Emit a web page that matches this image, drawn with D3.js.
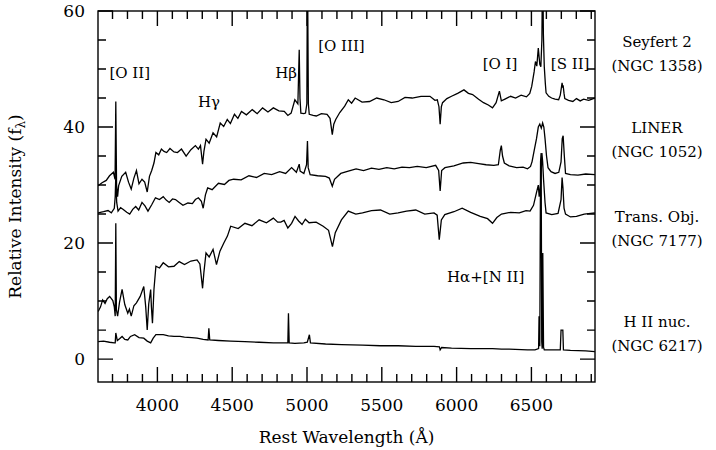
<!DOCTYPE html>
<html>
<head>
<meta charset="utf-8">
<script src="https://cdn.jsdelivr.net/npm/d3@7"></script>
<style>
  body { margin: 0; background: #fff; }
  text { font-family: "DejaVu Serif", "Liberation Serif", serif; fill: #000; }
</style>
</head>
<body>
<script>
// spectra: [rest wavelength, relative intensity]
var seyfert = [[3604,29.9],[3630,30.4],[3658,30.8],[3680,31.6],[3706,32.2],[3717,31],[3722,44.4],[3727,30],[3734,28],[3741,29.9],[3762,31.5],[3788,32.2],[3807,30.5],[3825,29.3],[3843,31.2],[3860,32.5],[3877,30.2],[3897,31],[3915,30.5],[3932,28.8],[3947,31.5],[3962,32.5],[3977,33.8],[3990,35.6],[4009,35.2],[4027,36.2],[4044,35.8],[4062,35.6],[4084,36.3],[4111,35.7],[4134,35.6],[4161,36.2],[4192,35.0],[4224,36.1],[4254,36.8],[4274,36.2],[4288,36.8],[4302,33.6],[4311,35.8],[4325,37.9],[4346,37.2],[4372,39.0],[4396,38.3],[4420,40.7],[4443,40.1],[4467,41.3],[4488,40.6],[4515,42.2],[4538,41.5],[4562,42.7],[4595,42.1],[4634,43.0],[4667,42.3],[4703,43.3],[4739,42.6],[4775,43.3],[4812,42.8],[4848,42.7],[4872,42.0],[4894,42.4],[4919,44.7],[4939,44],[4948,53.3],[4953,45],[4959,42.4],[4979,42.3],[4990,42.4],[4999,44],[5003,70],[5009,44],[5015,42.2],[5041,42.0],[5062,41.9],[5096,42.3],[5134,42.2],[5154,41.5],[5169,38.7],[5179,40.5],[5192,41.3],[5219,42.5],[5252,43.6],[5276,44.7],[5298,44.1],[5322,45.0],[5368,44.3],[5418,44.4],[5466,45.0],[5514,44.7],[5563,44.2],[5609,44.4],[5655,45.1],[5703,45.0],[5762,45.3],[5822,45.3],[5855,44.6],[5871,44.7],[5882,43.5],[5890,40.5],[5898,43.5],[5906,44.2],[5935,44.9],[5966,45.3],[6007,45.8],[6049,46.4],[6079,45.8],[6107,45.6],[6147,44.8],[6180,44.2],[6212,43.8],[6240,43.3],[6264,44.2],[6286,46.2],[6299,44.5],[6323,44.8],[6361,45.3],[6394,45.0],[6431,45.5],[6467,45.2],[6489,45.8],[6502,47.0],[6518,49.5],[6527,51.3],[6536,50.5],[6546,53.6],[6556,50.8],[6563,50.4],[6570,55],[6575,70],[6580,56],[6586,50.4],[6593,47.5],[6598,45.9],[6616,45.3],[6635,45.0],[6658,44.8],[6682,44.7],[6693,45.5],[6705,47.6],[6709,46.8],[6712,47.2],[6718,45.8],[6723,44.9],[6748,44.6],[6777,44.4],[6801,44.9],[6826,44.5],[6849,44.8],[6883,44.6],[6924,45.0]];

var liner = [[3604,25.2],[3640,25.4],[3670,25.6],[3692,25.2],[3712,26.0],[3718,28],[3722,31.5],[3728,27],[3737,25.5],[3754,26.1],[3772,25.8],[3795,25.3],[3815,25.0],[3835,25.8],[3855,26.3],[3875,25.7],[3897,27.0],[3917,26.4],[3937,25.5],[3962,26.6],[3987,27.8],[4014,27.5],[4039,28.0],[4059,27.4],[4079,27.0],[4101,27.6],[4121,27.5],[4146,27.0],[4171,26.5],[4204,26.9],[4234,26.8],[4254,27.5],[4274,27.8],[4294,27.2],[4306,26.0],[4321,28.3],[4336,29.5],[4366,29.2],[4408,30.3],[4448,30.1],[4478,30.8],[4510,31.0],[4560,30.9],[4612,31.6],[4662,31.3],[4714,32.0],[4764,31.8],[4817,32.3],[4857,32.0],[4897,33.0],[4929,32.2],[4948,33.6],[4954,32.4],[4979,32.0],[4997,33.5],[5003,37.6],[5008,33],[5021,31.8],[5071,31.6],[5124,31.5],[5149,31.2],[5169,29.8],[5184,31.0],[5226,32.0],[5276,32.4],[5328,32.8],[5378,32.5],[5431,32.9],[5481,32.7],[5533,33.0],[5583,32.8],[5635,33.1],[5685,33.0],[5737,33.2],[5797,33.0],[5860,33.4],[5880,32.5],[5890,29.0],[5900,32.5],[5922,33.0],[5982,33.3],[6044,33.8],[6094,33.9],[6147,33.7],[6197,33.5],[6249,33.4],[6279,33.5],[6292,36.0],[6299,36.8],[6307,35.0],[6319,33.8],[6351,33.3],[6401,33.0],[6444,33.1],[6474,32.8],[6494,33.2],[6504,34.0],[6519,36.0],[6534,38.0],[6546,40.0],[6556,40.5],[6566,39.8],[6575,40.7],[6583,40.0],[6591,38.0],[6601,35.0],[6611,33.0],[6631,32.3],[6658,32.0],[6683,32.2],[6698,34.0],[6706,38.0],[6712,38.5],[6720,35.0],[6728,32.0],[6761,31.8],[6811,31.7],[6863,31.9],[6924,31.8]];

var transObj = [[3604,8.2],[3620,9.0],[3634,10.2],[3650,9.6],[3665,10.4],[3681,10.8],[3702,10.1],[3712,9.0],[3718,7.4],[3722,23.4],[3726,8.5],[3734,7.4],[3747,9.8],[3764,12.0],[3782,9.4],[3802,7.9],[3813,8.6],[3825,7.4],[3843,9.2],[3860,9.7],[3885,10.8],[3909,12.5],[3922,9.0],[3932,5.0],[3942,9.5],[3955,12.0],[3960,9.0],[3967,6.2],[3977,12.0],[3990,16.0],[4014,15.7],[4039,16.6],[4074,15.9],[4111,16.0],[4146,16.8],[4181,16.3],[4224,16.9],[4265,17.1],[4284,16.4],[4302,12.2],[4311,15.0],[4325,18.3],[4346,17.6],[4372,18.9],[4395,16.3],[4418,18.6],[4444,20.0],[4468,21.2],[4490,22.9],[4540,22.5],[4585,23.4],[4632,23.0],[4680,24.0],[4729,23.5],[4775,24.3],[4804,23.6],[4825,23.6],[4847,23.9],[4872,22.6],[4897,23.4],[4920,24.6],[4944,23.8],[4967,23.2],[4989,24.1],[5014,23.5],[5061,23.6],[5108,22.9],[5144,22.2],[5170,19.4],[5189,21.8],[5230,24.0],[5276,25.5],[5326,25.0],[5371,25.2],[5431,25.6],[5491,25.7],[5553,25.0],[5609,25.2],[5665,25.5],[5727,25.7],[5787,25.0],[5849,25.2],[5870,24.8],[5884,20.6],[5898,24.0],[5921,24.9],[5982,25.4],[6037,26.0],[6094,25.3],[6158,24.6],[6207,24.2],[6240,23.4],[6269,24.4],[6300,25.0],[6361,25.3],[6419,25.2],[6464,25.6],[6491,25.5],[6514,26.5],[6533,28.6],[6546,30.0],[6552,28.0],[6563,30.5],[6570,35.5],[6575,34.0],[6581,31.0],[6591,27.0],[6598,25.2],[6636,24.9],[6678,25.1],[6698,27.5],[6705,31.3],[6711,29.5],[6718,26.0],[6728,25.0],[6761,24.5],[6801,24.6],[6853,25.0],[6924,25.2]];

var hiiNuc = [[3604,3.0],[3640,3.1],[3680,2.9],[3712,2.8],[3718,2.8],[3722,4.5],[3732,3.2],[3747,3.5],[3764,3.9],[3782,3.4],[3802,3.3],[3820,3.9],[3848,4.2],[3877,3.7],[3909,3.6],[3932,3.1],[3955,2.8],[3972,3.6],[3990,4.2],[4039,4.2],[4074,4.0],[4111,3.9],[4151,3.9],[4181,3.8],[4229,3.7],[4265,3.6],[4306,3.4],[4339,3.3],[4344,5.3],[4350,3.3],[4408,3.2],[4490,3.1],[4585,3.0],[4680,2.9],[4775,2.8],[4847,2.8],[4872,2.8],[4876,7.9],[4881,2.8],[4919,2.7],[4979,2.8],[5002,2.9],[5016,4.2],[5023,2.8],[5124,2.6],[5230,2.5],[5371,2.4],[5491,2.3],[5609,2.3],[5727,2.2],[5849,2.2],[5885,2.1],[5890,1.6],[5900,2.0],[5966,1.9],[6094,1.8],[6240,1.8],[6300,1.7],[6351,1.7],[6474,1.6],[6524,1.6],[6548,1.8],[6551,7.4],[6556,2.2],[6561,34.0],[6565,35.5],[6569,3.0],[6572,1.8],[6576,18.3],[6581,2.0],[6586,1.6],[6598,1.6],[6658,1.6],[6693,1.6],[6698,5.0],[6710,5.0],[6714,1.6],[6761,1.5],[6863,1.4],[6924,1.3]];

var spectra = [seyfert, liner, transObj, hiiNuc];

var xTicks = [4000, 4500, 5000, 5500, 6000, 6500];
var yTicks = [0, 20, 40, 60];

var sideLabels = [["Seyfert 2", "(NGC 1358)"], ["LINER", "(NGC 1052)"], ["Trans. Obj.", "(NGC 7177)"], ["H II nuc.", "(NGC 6217)"]];
var sideLabelY = [42, 128, 217, 322];

var lineLabels = [
  {t: "[O II]", w: 3815, v: 49.4},
  {t: "Hγ", w: 4345, v: 44.5},
  {t: "Hβ", w: 4860, v: 49.4},
  {t: "[O III]", w: 5230, v: 54.2},
  {t: "[O I]", w: 6290, v: 51.1},
  {t: "[S II]", w: 6759, v: 51.1},
  {t: "Hα+[N II]", w: 6194, v: 14.3}
];

var W = 716, H = 450;
var margin = {top: 11, right: 121, bottom: 68, left: 98};
var iw = W - margin.left - margin.right, ih = H - margin.top - margin.bottom;

var svg = d3.select("body").append("svg").attr("width", W).attr("height", H);
svg.append("defs").append("clipPath").attr("id", "clip")
  .append("rect").attr("width", iw).attr("height", ih);

var g = svg.append("g").attr("transform", "translate(" + margin.left + "," + margin.top + ")");

var x = d3.scaleLinear().domain([3603, 6925]).range([0, iw]);
var y = d3.scaleLinear().domain([-3.95, 60]).range([ih, 0]);

var minorX = d3.range(3700, 6901, 100);
var minorY = d3.range(0, 61, 5);

// inward ticks on all four sides, drawn as one path
var ticks = [];
minorX.forEach(function(d) {
  var len = xTicks.indexOf(d) >= 0 ? 15 : 8, px = x(d);
  ticks.push("M" + px + "," + ih + "v" + (-len), "M" + px + ",0v" + len);
});
minorY.forEach(function(d) {
  var len = yTicks.indexOf(d) >= 0 ? 15 : 8, py = y(d);
  ticks.push("M0," + py + "h" + len, "M" + iw + "," + py + "h" + (-len));
});
g.append("path").attr("d", ticks.join("")).attr("fill", "none").attr("stroke", "#000").attr("stroke-width", 1.4);

g.append("rect").attr("width", iw).attr("height", ih)
  .attr("fill", "none").attr("stroke", "#000").attr("stroke-width", 1.4);

g.selectAll(".xl").data(xTicks).enter().append("text").attr("class", "xl")
  .attr("x", function(d) { return x(d); }).attr("y", ih + 29)
  .attr("text-anchor", "middle").style("font-size", "17px").text(function(d) { return d; });
g.selectAll(".yl").data(yTicks).enter().append("text").attr("class", "yl")
  .attr("x", -13).attr("y", function(d) { return y(d) + 6; })
  .attr("text-anchor", "end").style("font-size", "17px").text(function(d) { return d; });

var line = d3.line().x(function(d) { return x(d[0]); }).y(function(d) { return y(d[1]); });
g.append("g").attr("clip-path", "url(#clip)").selectAll("path").data(spectra).enter().append("path")
  .attr("d", line).attr("fill", "none").attr("stroke", "#000").attr("stroke-width", 1.3);

g.selectAll(".ll").data(lineLabels).enter().append("text").attr("class", "ll")
  .attr("x", function(d) { return x(d.w); }).attr("y", function(d) { return y(d.v) + 6; })
  .attr("text-anchor", "middle").style("font-size", "15px").text(function(d) { return d.t; });

var side = svg.selectAll(".sl").data(sideLabels).enter().append("g").attr("class", "sl");
side.append("text").attr("x", 657).attr("y", function(d, i) { return sideLabelY[i] + 5; })
  .attr("text-anchor", "middle").style("font-size", "15px").text(function(d) { return d[0]; });
side.append("text").attr("x", 657).attr("y", function(d, i) { return sideLabelY[i] + 29; })
  .attr("text-anchor", "middle").style("font-size", "15px").text(function(d) { return d[1]; });

svg.append("text").attr("x", margin.left + iw / 2).attr("y", 443)
  .attr("text-anchor", "middle").style("font-size", "17px").text("Rest Wavelength (Å)");

var yt = svg.append("text").attr("transform", "translate(21," + (margin.top + ih / 2 + 10) + ") rotate(-90)")
  .attr("text-anchor", "middle").style("font-size", "17px");
yt.append("tspan").text("Relative Intensity (f");
yt.append("tspan").attr("dy", 4).style("font-size", "12px").text("λ");
yt.append("tspan").attr("dy", -4).text(")");
</script>
</body>
</html>
